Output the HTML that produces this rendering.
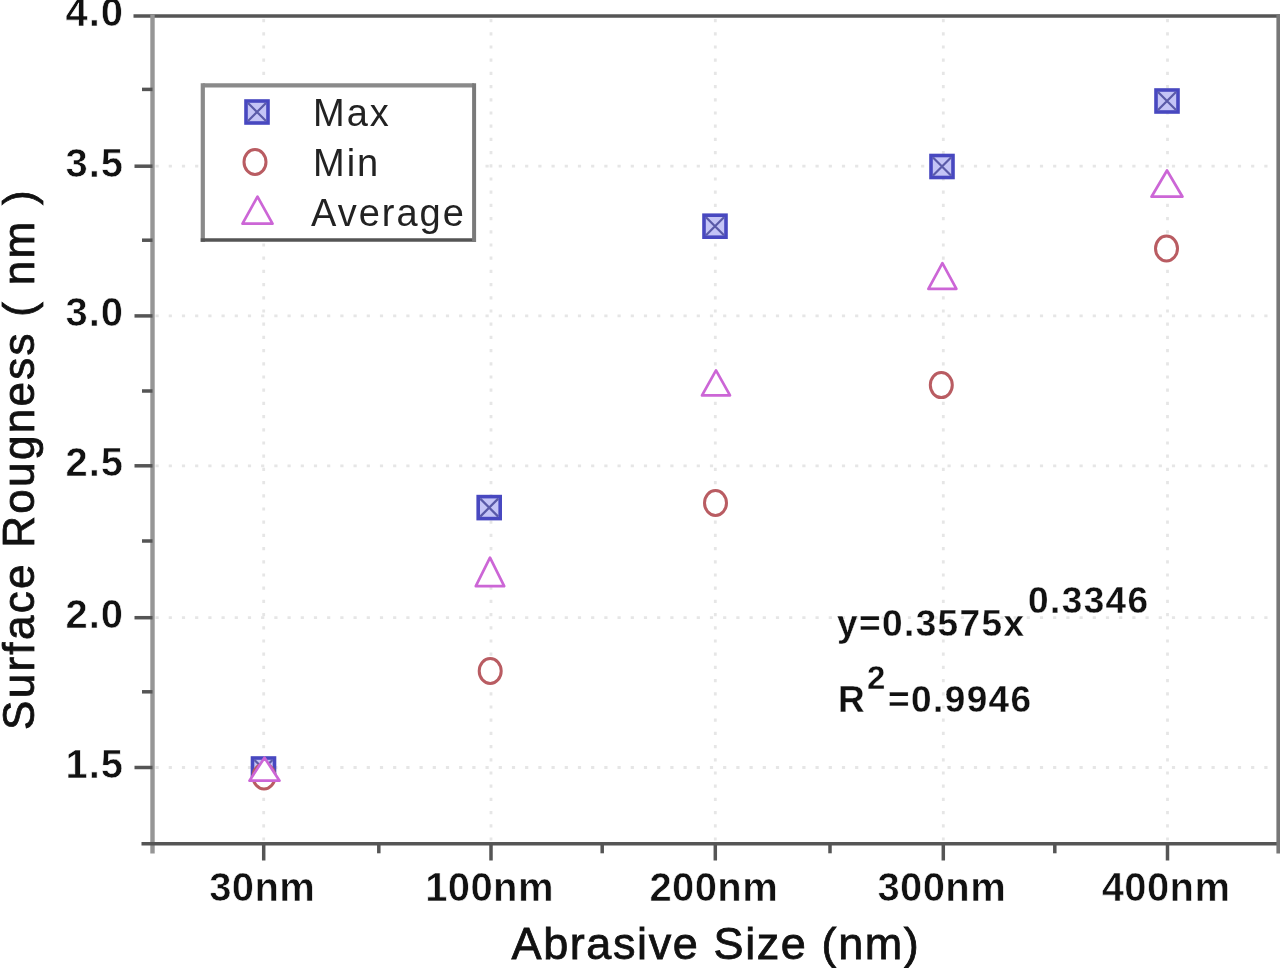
<!DOCTYPE html>
<html><head><meta charset="utf-8"><style>
html,body{margin:0;padding:0;background:#fff;width:1280px;height:968px;overflow:hidden}
svg{display:block;filter:blur(0.7px)}
text{font-family:"Liberation Sans",sans-serif;fill:#111}
.grid{stroke:#e6e6e6;stroke-width:2.8;stroke-dasharray:3.2 10}
.ax{stroke-width:3.6;stroke-linecap:butt}
.dark{stroke:#555}
.light{stroke:#969696;stroke-width:4.4}
.mid{stroke:#777}
.tk{stroke:#555;stroke-width:3.5}
.tl{font-weight:bold;font-size:40px;letter-spacing:0.4px;stroke:#fff;stroke-width:0.6px}
.yl{letter-spacing:1px}
.ti{font-size:44px;letter-spacing:2px;stroke:#111;stroke-width:0.8px}
.xt{font-size:45px;letter-spacing:1.6px}
.eq{font-weight:bold;font-size:37px;letter-spacing:1.4px;stroke:#fff;stroke-width:0.3px}
.sup{font-size:33px}
.lt{font-size:38px;letter-spacing:2px;fill:#222}
.sq rect{fill:#c4c4f6;stroke:#4848c0;stroke-width:3.6}
.sq path{stroke:#5a5aa8;stroke-width:2.2}
.ci{fill:#fff;stroke:#b95c62;stroke-width:3}
.tr{fill:#fff;stroke:#cc66d6;stroke-width:2.7;stroke-linejoin:round}
.leg{fill:#fff;stroke:#555;stroke-width:3.5}
</style></head><body>
<svg width="1280" height="968" viewBox="0 0 1280 968">
<line x1="263.7" y1="19.0" x2="263.7" y2="840.7" class="grid"/>
<line x1="491.0" y1="19.0" x2="491.0" y2="840.7" class="grid"/>
<line x1="715.3" y1="19.0" x2="715.3" y2="840.7" class="grid"/>
<line x1="943.3" y1="19.0" x2="943.3" y2="840.7" class="grid"/>
<line x1="1167.5" y1="19.0" x2="1167.5" y2="840.7" class="grid"/>
<line x1="155.5" y1="166.2" x2="1275.2" y2="166.2" class="grid"/>
<line x1="155.5" y1="315.9" x2="1275.2" y2="315.9" class="grid"/>
<line x1="155.5" y1="465.8" x2="1275.2" y2="465.8" class="grid"/>
<line x1="155.5" y1="617.7" x2="1275.2" y2="617.7" class="grid"/>
<line x1="155.5" y1="767.5" x2="1275.2" y2="767.5" class="grid"/>
<line x1="133.5" y1="16.0" x2="1280" y2="16.0" class="ax dark"/>
<line x1="152.5" y1="14.5" x2="152.5" y2="853.5" class="ax light"/>
<line x1="141.5" y1="843.7" x2="1280" y2="843.7" class="ax dark"/>
<line x1="1278.2" y1="14.5" x2="1278.2" y2="853.5" class="ax mid"/>
<line x1="134.5" y1="166.2" x2="152.5" y2="166.2" class="tk"/>
<line x1="134.5" y1="315.9" x2="152.5" y2="315.9" class="tk"/>
<line x1="134.5" y1="465.8" x2="152.5" y2="465.8" class="tk"/>
<line x1="134.5" y1="617.7" x2="152.5" y2="617.7" class="tk"/>
<line x1="134.5" y1="767.5" x2="152.5" y2="767.5" class="tk"/>
<line x1="142" y1="89.4" x2="152.5" y2="89.4" class="tk"/>
<line x1="142" y1="240.2" x2="152.5" y2="240.2" class="tk"/>
<line x1="142" y1="391.0" x2="152.5" y2="391.0" class="tk"/>
<line x1="142" y1="541.0" x2="152.5" y2="541.0" class="tk"/>
<line x1="142" y1="691.8" x2="152.5" y2="691.8" class="tk"/>
<line x1="263.7" y1="843.7" x2="263.7" y2="860.5" class="tk"/>
<line x1="491.0" y1="843.7" x2="491.0" y2="860.5" class="tk"/>
<line x1="715.3" y1="843.7" x2="715.3" y2="860.5" class="tk"/>
<line x1="943.3" y1="843.7" x2="943.3" y2="860.5" class="tk"/>
<line x1="1167.5" y1="843.7" x2="1167.5" y2="860.5" class="tk"/>
<line x1="378.8" y1="843.7" x2="378.8" y2="853.3" class="tk"/>
<line x1="602.2" y1="843.7" x2="602.2" y2="853.3" class="tk"/>
<line x1="830.0" y1="843.7" x2="830.0" y2="853.3" class="tk"/>
<line x1="1054.8" y1="843.7" x2="1054.8" y2="853.3" class="tk"/>
<text x="124" y="26.4" class="tl yl" text-anchor="end">4.0</text>
<text x="124" y="176.6" class="tl yl" text-anchor="end">3.5</text>
<text x="124" y="326.2" class="tl yl" text-anchor="end">3.0</text>
<text x="124" y="476.1" class="tl yl" text-anchor="end">2.5</text>
<text x="124" y="628.0" class="tl yl" text-anchor="end">2.0</text>
<text x="124" y="777.8" class="tl yl" text-anchor="end">1.5</text>
<text x="262.2" y="901" class="tl" text-anchor="middle">30nm</text>
<text x="489.5" y="901" class="tl" text-anchor="middle">100nm</text>
<text x="713.8" y="901" class="tl" text-anchor="middle">200nm</text>
<text x="941.8" y="901" class="tl" text-anchor="middle">300nm</text>
<text x="1166.0" y="901" class="tl" text-anchor="middle">400nm</text>
<text x="716" y="958.5" class="ti xt" text-anchor="middle">Abrasive Size (nm)</text>
<text transform="translate(34,459) rotate(-90)" class="ti" style="letter-spacing:2.3px" text-anchor="middle">Surface Rougness ( nm )</text>
<text x="837" y="636" class="eq">y=0.3575x</text>
<text x="1028" y="613" class="eq">0.3346</text>
<text x="838" y="712" class="eq">R</text>
<text x="867" y="689" class="eq sup">2</text>
<text x="888" y="712" class="eq">=0.9946</text>
<g class="sq"><rect x="252.5" y="758.0" width="22" height="22"/><path d="M254.5,760.0L272.5,778.0M272.5,760.0L254.5,778.0"/></g>
<g class="sq"><rect x="478.2" y="496.6" width="22" height="22"/><path d="M480.2,498.6L498.2,516.6M498.2,498.6L480.2,516.6"/></g>
<g class="sq"><rect x="704.0" y="215.2" width="22" height="22"/><path d="M706.0,217.2L724.0,235.2M724.0,217.2L706.0,235.2"/></g>
<g class="sq"><rect x="931.0" y="155.5" width="22" height="22"/><path d="M933.0,157.5L951.0,175.5M951.0,157.5L933.0,175.5"/></g>
<g class="sq"><rect x="1156.0" y="90.0" width="22" height="22"/><path d="M1158.0,92.0L1176.0,110.0M1176.0,92.0L1158.0,110.0"/></g>
<ellipse class="ci" cx="264.0" cy="776.5" rx="11" ry="12.5"/>
<ellipse class="ci" cx="490.2" cy="671.0" rx="11" ry="12.5"/>
<ellipse class="ci" cx="715.5" cy="503.0" rx="11" ry="12.5"/>
<ellipse class="ci" cx="941.3" cy="385.1" rx="11" ry="12.5"/>
<ellipse class="ci" cx="1166.5" cy="248.5" rx="11" ry="12.5"/>
<path class="tr" d="M264.5,757.7L279.5,780.7L249.5,780.7Z"/>
<path class="tr" d="M490.0,557.7L504.2,586.2L475.8,586.2Z"/>
<path class="tr" d="M716.0,370.4L730.0,395.4L702.0,395.4Z"/>
<path class="tr" d="M942.4,263.1L956.4,288.9L928.4,288.9Z"/>
<path class="tr" d="M1167.0,170.5L1182.5,196.7L1151.5,196.7Z"/>
<rect x="202.8" y="85.3" width="271.3" height="154.7" fill="#fff"/>
<line x1="202.8" y1="85.3" x2="474.1" y2="85.3" stroke="#8a8a8a" stroke-width="4.2"/>
<line x1="202.8" y1="83.2" x2="202.8" y2="242" stroke="#8a8a8a" stroke-width="4.2"/>
<line x1="200.7" y1="240" x2="476" y2="240" stroke="#555" stroke-width="3.6"/>
<line x1="474.1" y1="83.2" x2="474.1" y2="242" stroke="#7a7a7a" stroke-width="4"/>
<g class="sq"><rect x="246.0" y="101.0" width="22" height="22"/><path d="M248.0,103.0L266.0,121.0M266.0,103.0L248.0,121.0"/></g>
<ellipse class="ci" cx="255" cy="162" rx="11" ry="12.5"/>
<path class="tr" d="M257.5,196.7L272.5,223.7L242.5,223.7Z"/>
<text x="313" y="126" class="lt">Max</text>
<text x="313" y="176" class="lt">Min</text>
<text x="311" y="226" class="lt">Average</text>
</svg>
</body></html>
